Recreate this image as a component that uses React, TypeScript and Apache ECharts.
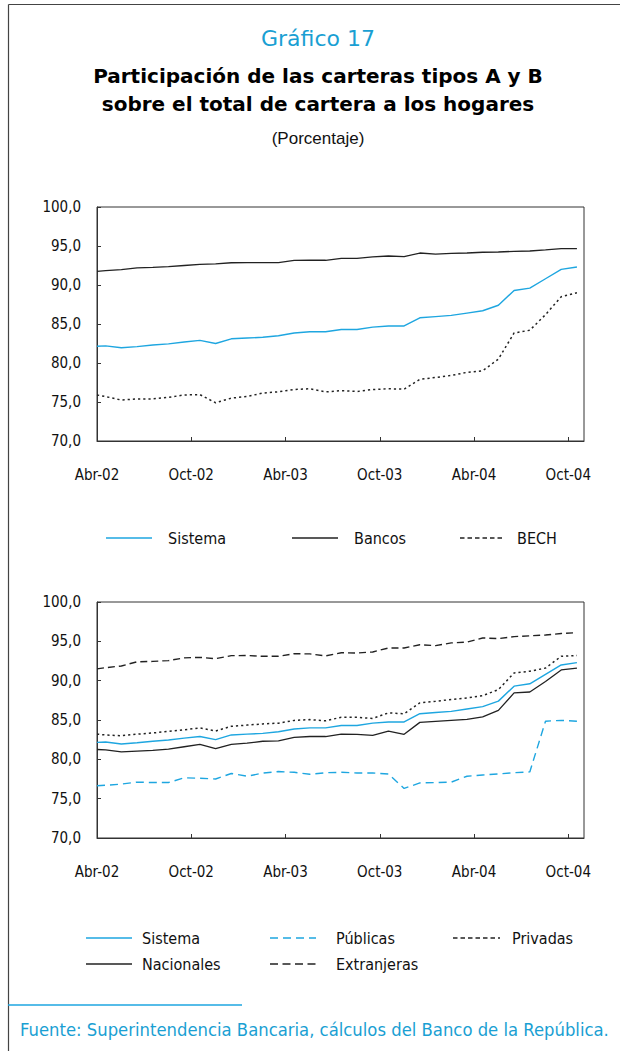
import React, { useEffect, useRef } from "react";
import * as echarts from "echarts";

// Month offsets from Abr-02 (time coordinate of each observation)
const monthPos = [0, 0.55, 1.55, 2.55, 3.55, 4.55, 5.55, 6.55, 7.55, 8.55, 9.55, 10.55, 11.55, 12.55, 13.55, 14.55, 15.55, 16.55, 17.55, 18.55, 19.55, 20.55, 21.55, 22.55, 23.55, 24.55, 25.55, 26.55, 27.55, 28.55, 29.55, 30.55];
const tickLabels = ["Abr-02", "Oct-02", "Abr-03", "Oct-03", "Abr-04", "Oct-04"];

const sistema = [82.15, 82.2, 81.95, 82.1, 82.3, 82.45, 82.7, 82.9, 82.5, 83.1, 83.2, 83.3, 83.5, 83.85, 84.0, 84.0, 84.3, 84.3, 84.6, 84.75, 84.75, 85.8, 85.95, 86.1, 86.4, 86.7, 87.4, 89.3, 89.6, 90.8, 92.0, 92.3];
const bancos = [91.75, 91.85, 91.97, 92.2, 92.25, 92.35, 92.5, 92.65, 92.7, 92.85, 92.87, 92.87, 92.87, 93.15, 93.17, 93.17, 93.42, 93.42, 93.6, 93.72, 93.65, 94.1, 93.95, 94.05, 94.1, 94.2, 94.23, 94.32, 94.36, 94.5, 94.66, 94.66];
const bech = [75.9, 75.7, 75.25, 75.4, 75.4, 75.6, 75.9, 75.95, 74.9, 75.5, 75.7, 76.15, 76.3, 76.6, 76.7, 76.3, 76.45, 76.35, 76.6, 76.7, 76.65, 77.9, 78.15, 78.4, 78.8, 79.0, 80.5, 83.85, 84.2, 86.2, 88.5, 89.0];
const publicas = [76.65, 76.7, 76.85, 77.1, 77.05, 77.05, 77.65, 77.6, 77.5, 78.2, 77.85, 78.25, 78.45, 78.35, 78.1, 78.3, 78.35, 78.27, 78.27, 78.14, 76.3, 77.0, 77.05, 77.1, 77.85, 78.0, 78.15, 78.3, 78.4, 84.85, 84.95, 84.85];
const privadas = [83.2, 83.1, 83.0, 83.2, 83.35, 83.55, 83.75, 84.0, 83.6, 84.2, 84.35, 84.5, 84.6, 84.95, 85.05, 84.9, 85.35, 85.34, 85.2, 85.9, 85.8, 87.17, 87.38, 87.6, 87.8, 88.1, 88.86, 90.98, 91.2, 91.6, 93.1, 93.2];
const nacionales = [81.25, 81.2, 80.95, 81.05, 81.15, 81.3, 81.6, 81.9, 81.35, 81.9, 82.05, 82.3, 82.35, 82.8, 82.9, 82.9, 83.2, 83.18, 83.05, 83.6, 83.18, 84.7, 84.83, 84.95, 85.07, 85.4, 86.23, 88.44, 88.56, 89.9, 91.36, 91.6];
const extranjeras = [91.5, 91.65, 91.87, 92.4, 92.45, 92.55, 92.9, 92.96, 92.8, 93.18, 93.2, 93.1, 93.1, 93.43, 93.4, 93.15, 93.55, 93.52, 93.65, 94.15, 94.15, 94.57, 94.45, 94.8, 94.9, 95.43, 95.35, 95.6, 95.7, 95.8, 96.0, 96.1];

const figureNumber = "Gráfico 17";
const titleLines = ["Participación de las carteras tipos A y B", "sobre el total de cartera a los hogares"];
const unitText = "(Porcentaje)";
const sourceText = "Fuente: Superintendencia Bancaria, cálculos del Banco de la República.";

const CYAN = "#1ea6e0";
const CYAN_TEXT = "#1a9fd3";
const BLACK = "#222222";
const NARROW = "'DejaVu Sans Condensed', 'Liberation Sans', sans-serif";

type S = { name: string; data: number[]; color: string; dash: number[] | "solid"; legendDash: number[] | "solid"; width: number };

const topSeries: S[] = [
  { name: "Sistema", data: sistema, color: CYAN, dash: "solid", legendDash: "solid", width: 1.4 },
  { name: "Bancos", data: bancos, color: BLACK, dash: "solid", legendDash: "solid", width: 1.3 },
  { name: "BECH", data: bech, color: BLACK, dash: [2.2, 3], legendDash: [4.5, 3], width: 1.5 },
];
const bottomSeries: S[] = [
  { name: "Sistema", data: sistema, color: CYAN, dash: "solid", legendDash: "solid", width: 1.4 },
  { name: "Públicas", data: publicas, color: CYAN, dash: [8, 5], legendDash: [8, 5], width: 1.4 },
  { name: "Privadas", data: privadas, color: BLACK, dash: [2.2, 3], legendDash: [4.5, 3], width: 1.5 },
  { name: "Nacionales", data: nacionales, color: BLACK, dash: "solid", legendDash: "solid", width: 1.3 },
  { name: "Extranjeras", data: extranjeras, color: BLACK, dash: [7, 4], legendDash: [8, 4.5], width: 1.4 },
];

export default function App() {
  const ref = useRef<HTMLDivElement>(null);
  useEffect(() => {
    document.body.style.margin = "0";
    if (!ref.current) return;
    const chart = echarts.init(ref.current, undefined, { renderer: "svg" });

    const xAxisBase = (gridIndex: number) => ({
      gridIndex,
      type: "value",
      min: 0,
      max: 31,
      interval: 6,
      axisLine: { show: true, lineStyle: { color: "#333", width: 1 } },
      axisTick: { show: true, inside: true, length: 4, lineStyle: { color: "#333" } },
      splitLine: { show: false },
      axisLabel: {
        margin: 26,
        fontFamily: NARROW,
        fontSize: 15,
        color: "#111",
        showMaxLabel: false,
        formatter: (v: number) => (v % 6 === 0 ? tickLabels[v / 6] ?? "" : ""),
      },
    });
    const yAxisBase = (gridIndex: number) => ({
      gridIndex,
      type: "value",
      min: 70,
      max: 100,
      interval: 5,
      axisLine: { show: true, lineStyle: { color: "#333", width: 1 } },
      axisTick: { show: true, inside: true, length: 4, lineStyle: { color: "#333" } },
      splitLine: { show: false },
      axisLabel: {
        margin: 16,
        fontFamily: NARROW,
        fontSize: 15,
        color: "#111",
        formatter: (v: number) => v.toFixed(1).replace(".", ","),
      },
    });

    const mkSeries = (s: S, idx: number) => ({
      type: "line",
      name: s.name,
      xAxisIndex: idx,
      yAxisIndex: idx,
      symbol: "none",
      data: s.data.map((v, i) => [monthPos[i], v]),
      lineStyle: { color: s.color, width: s.width, type: s.dash },
      itemStyle: { color: s.color },
    });

    const legendEls: any[] = [];
    const addLegend = (s: S, x1: number, x2: number, tx: number, y: number) => {
      legendEls.push({
        type: "line",
        shape: { x1, y1: y, x2, y2: y },
        style: { stroke: s.color, lineWidth: s.width, lineDash: s.legendDash === "solid" ? null : s.legendDash },
      });
      legendEls.push({
        type: "text",
        x: tx,
        y,
        style: { text: s.name, fontFamily: NARROW, fontSize: 16, fill: "#111", align: "left", verticalAlign: "middle", textAlign: "left", textVerticalAlign: "middle" },
      });
    };
    const topCols = [[106, 152, 168], [292, 338, 354], [460, 505, 517]];
    topSeries.forEach((s, i) => addLegend(s, topCols[i][0], topCols[i][1], topCols[i][2], 538));
    const botCols = [[86, 132, 142], [270, 316, 336], [453, 500, 512]];
    const botOrder = [[0, 0, 0], [1, 1, 0], [2, 2, 0], [3, 0, 1], [4, 1, 1]];
    botOrder.forEach(([si, ci, row]) =>
      addLegend(bottomSeries[si], botCols[ci][0], botCols[ci][1], botCols[ci][2], 938 + row * 26)
    );

    const centerText = (text: string, y: number, size: number, family: string, weight: string, fill: string) => ({
      type: "text",
      x: 318,
      y,
      style: { text, fontFamily: family, fontSize: size, fontWeight: weight, fill, align: "center", verticalAlign: "middle", textAlign: "center", textVerticalAlign: "middle" },
    });

    chart.setOption({
      animation: false,
      backgroundColor: "#ffffff",
      grid: [
        { left: 97, top: 207, width: 487, height: 234, show: true, borderColor: "#333", borderWidth: 1, backgroundColor: "transparent" },
        { left: 97, top: 602, width: 487, height: 236, show: true, borderColor: "#333", borderWidth: 1, backgroundColor: "transparent" },
      ],
      xAxis: [xAxisBase(0), xAxisBase(1)],
      yAxis: [yAxisBase(0), yAxisBase(1)],
      series: [...topSeries.map((s) => mkSeries(s, 0)), ...bottomSeries.map((s) => mkSeries(s, 1))],
      graphic: [
        { type: "line", shape: { x1: 8.5, y1: 4.5, x2: 620, y2: 4.5 }, style: { stroke: "#444", lineWidth: 1.2 } },
        { type: "line", shape: { x1: 8.5, y1: 4.5, x2: 8.5, y2: 1051 }, style: { stroke: "#444", lineWidth: 1.2 } },
        centerText(figureNumber, 38, 22, "'DejaVu Sans', sans-serif", "normal", CYAN_TEXT),
        centerText(titleLines[0], 76, 20, "'DejaVu Sans', sans-serif", "bold", "#000"),
        centerText(titleLines[1], 104, 20, "'DejaVu Sans', sans-serif", "bold", "#000"),
        centerText(unitText, 138, 17, "'Liberation Sans', Arial, sans-serif", "normal", "#111"),
        ...legendEls,
        { type: "line", shape: { x1: 8, y1: 1005, x2: 242, y2: 1005 }, style: { stroke: CYAN, lineWidth: 1.5 } },
        {
          type: "text",
          x: 20,
          y: 1029,
          style: { text: sourceText, fontFamily: NARROW, fontSize: 18.3, fill: CYAN_TEXT, align: "left", verticalAlign: "middle", textAlign: "left", textVerticalAlign: "middle" },
        },
      ],
    });
    return () => chart.dispose();
  }, []);
  return <div ref={ref} style={{ width: 620, height: 1051 }} />;
}
